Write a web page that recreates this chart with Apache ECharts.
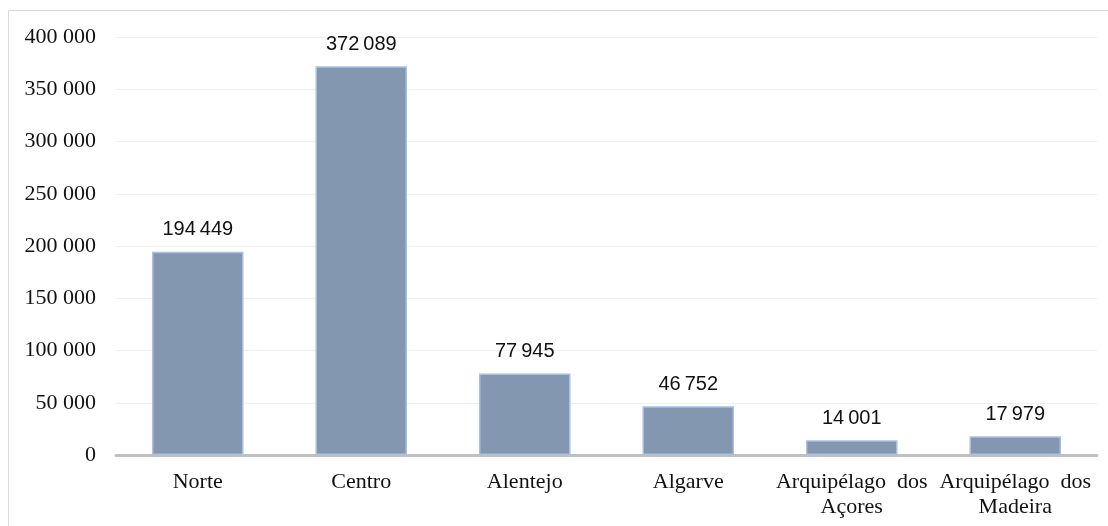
<!DOCTYPE html>
<html>
<head>
<meta charset="utf-8">
<style>
  html, body { margin: 0; padding: 0; background: #ffffff; }
  #chart { width: 1108px; height: 526px; }
</style>
<script src="https://cdn.jsdelivr.net/npm/echarts@6/dist/echarts.min.js"></script>
</head>
<body>
<div id="chart"></div>
<script>
// Regions and counts
const regions = ['Norte', 'Centro', 'Alentejo', 'Algarve', 'Arquipélago  dos\nAçores', 'Arquipélago  dos\nMadeira'];
const counts = [194449, 372089, 77945, 46752, 14001, 17979];
const yTicks = [0, 50000, 100000, 150000, 200000, 250000, 300000, 350000, 400000];

function groupDigits(v, sep) {
  return String(v).replace(/\B(?=(\d{3})+(?!\d))/g, sep);
}

const chart = echarts.init(document.getElementById('chart'), null, { renderer: 'canvas' });
chart.setOption({
  animation: false,
  backgroundColor: '#ffffff',
  graphic: [{
    type: 'rect',
    shape: { x: 8.5, y: 10.5, width: 1120, height: 540 },
    style: { fill: 'none', stroke: '#d9d9d9', lineWidth: 1 },
    silent: true,
    z: -1
  }],
  grid: { left: 116, right: 11, top: 37, bottom: 71, containLabel: false },
  xAxis: {
    type: 'category',
    data: regions,
    axisLine: { show: true, lineStyle: { color: '#c0c0c0', width: 3 } },
    axisTick: { show: false },
    axisLabel: {
      interval: 0,
      margin: 15,
      color: '#111111',
      fontFamily: '"Liberation Serif", "DejaVu Serif", serif',
      fontSize: 22,
      lineHeight: 25
    }
  },
  yAxis: {
    type: 'value',
    min: yTicks[0],
    max: yTicks[yTicks.length - 1],
    interval: 50000,
    axisLine: { show: false },
    axisTick: { show: false },
    splitLine: { lineStyle: { color: '#efefef', width: 1 } },
    axisLabel: {
      margin: 20,
      color: '#111111',
      fontFamily: '"Liberation Serif", "DejaVu Serif", serif',
      fontSize: 22,
      formatter: v => groupDigits(v, ' ')
    }
  },
  series: [{
    type: 'bar',
    data: counts,
    barWidth: '56%',
    itemStyle: { color: '#8497b0', borderColor: '#a9c0e6', borderWidth: 1.5 },
    label: {
      show: true,
      position: 'top',
      distance: 12,
      color: '#111111',
      fontFamily: '"Liberation Sans", Arimo, sans-serif',
      fontSize: 20,
      formatter: p => groupDigits(p.value, '\u2009')
    }
  }]
});
</script>
</body>
</html>
